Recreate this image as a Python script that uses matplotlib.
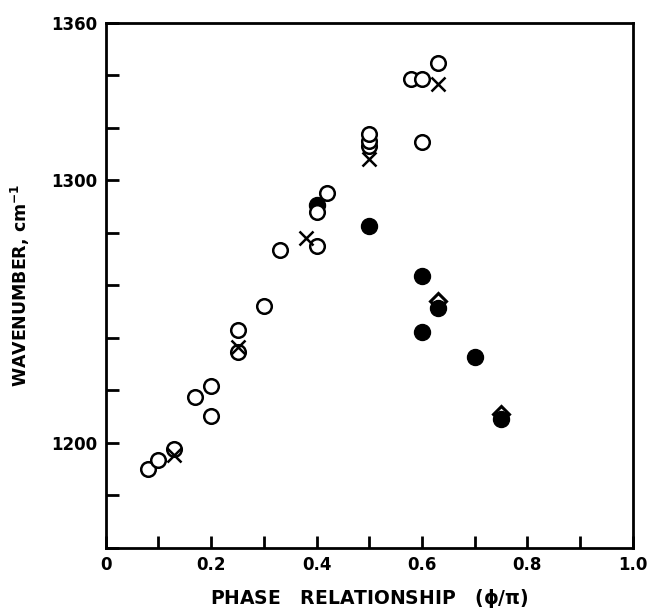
import numpy as np
import matplotlib
matplotlib.use("Agg")
import matplotlib.pyplot as plt

# open circles
open_x = [0.08, 0.10, 0.13, 0.17, 0.20, 0.20, 0.25, 0.25, 0.30, 0.33,
          0.40, 0.40, 0.42, 0.50, 0.50, 0.50, 0.58, 0.60, 0.63, 0.60]
open_y = [1190, 1193.5, 1197.5, 1217.5, 1221.5, 1210, 1243, 1234.5, 1252, 1273.5,
          1275, 1288, 1295, 1313, 1315, 1317.5, 1338.5, 1338.5, 1344.5, 1314.5]

# crosses
cross_x = [0.13, 0.25, 0.38, 0.50, 0.63]
cross_y = [1195.5, 1236.5, 1278, 1308, 1336.5]

# filled circles
filled_x = [0.40, 0.50, 0.60, 0.63, 0.60, 0.70, 0.75]
filled_y = [1290.5, 1282.5, 1263.5, 1251.5, 1242, 1232.5, 1209]

# open diamonds
diam_x = [0.63, 0.75]
diam_y = [1254, 1211]

fig = plt.figure(figsize=(6.49, 6.12), dpi=100)
ax = fig.add_axes([0.163, 0.105, 0.812, 0.858])

ax.plot(diam_x, diam_y, 'D', ms=8, mfc='white', mec='black', mew=2.2, ls='none', zorder=2)
ax.plot(filled_x, filled_y, 'o', ms=11.5, mfc='black', mec='black', ls='none', zorder=3)
ax.plot(open_x, open_y, 'o', ms=10.5, mfc='white', mec='black', mew=1.8, ls='none', zorder=4)
ax.plot(cross_x, cross_y, 'x', ms=9.5, mec='black', mew=1.8, ls='none', zorder=5)

ax.set_xlim(0, 1.0)
ax.set_ylim(1160, 1360)

ax.set_xticks(np.arange(0, 1.01, 0.1))
ax.set_xticklabels(['0', '', '0.2', '', '0.4', '', '0.6', '', '0.8', '', '1.0'])
ax.set_yticks(np.arange(1160, 1361, 20))
ax.set_yticklabels(['' if v not in (1200, 1300, 1360) else str(v) for v in range(1160, 1361, 20)])

ax.tick_params(direction='in', length=9, width=2, labelsize=12, pad=6)
for lab in ax.get_xticklabels() + ax.get_yticklabels():
    lab.set_fontweight('bold')
for s in ax.spines.values():
    s.set_linewidth(2)

ax.set_xlabel('PHASE   RELATIONSHIP   ($\\mathbf{\\phi/\\pi}$)', fontsize=13.5,
              fontweight='bold', labelpad=9)
ax.set_ylabel('WAVENUMBER, cm$^{\\mathbf{-1}}$', fontsize=12.5, fontweight='bold', labelpad=14)

fig.savefig('out.png', dpi=100)
